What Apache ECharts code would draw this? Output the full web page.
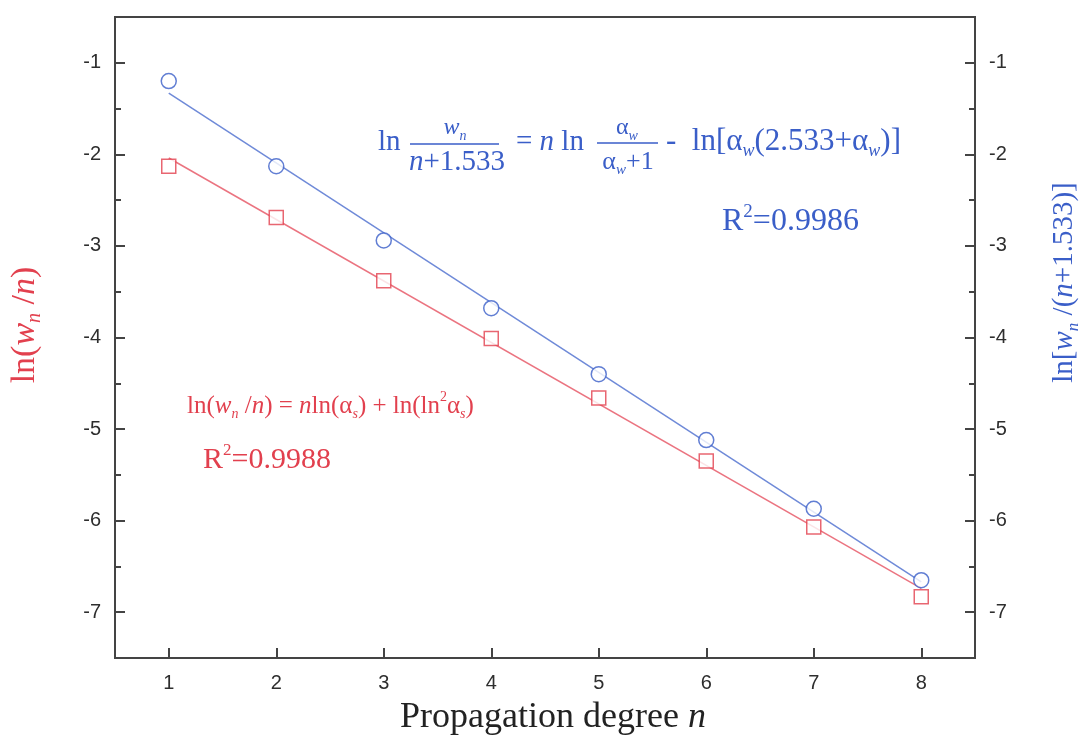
<!DOCTYPE html>
<html>
<head>
<meta charset="utf-8">
<script src="https://cdn.jsdelivr.net/npm/echarts@6/dist/echarts.min.js"></script>
<style>
html, body { margin: 0; padding: 0; background: #fff; }
#container { width: 1083px; height: 742px; }
</style>
</head>
<body>
<div id="container"></div>
<script>
// data
var degree = [1, 2, 3, 4, 5, 6, 7, 8];
var lnWnOverN = [-2.13, -2.69, -3.38, -4.01, -4.66, -5.35, -6.07, -6.83];
var lnWnOverN1533 = [-1.20, -2.13, -2.94, -3.68, -4.40, -5.12, -5.87, -6.65];
// fitted lines, read at n = 1 and n = 8
var fitDegree = [1, 8];
var fitRed = [-2.04, -6.74];
var fitBlue = [-1.33, -6.67];
// tick labels
var xTicks = [1, 2, 3, 4, 5, 6, 7, 8];
var yTicks = [-7, -6, -5, -4, -3, -2, -1];
var yMinorTicks = [-6.5, -5.5, -4.5, -3.5, -2.5, -1.5];

var red = '#e2404e';
var blue = '#3a5ec8';
var axisColor = '#444';
var serif = "'Liberation Serif', 'Times New Roman', serif";
var sans = "'Liberation Sans', Arial, sans-serif";

function pairs(xs, ys) {
	return xs.map(function (x, i) { return [x, ys[i]]; });
}

// rich styles for the formula texts (zrender names)
function richFor(size, color) {
	var sub = Math.round(size * 0.58);
	return {
		n: { fontSize: size, fontFamily: serif, fill: color, lineHeight: size + 6 },
		i: { fontSize: size, fontFamily: serif, fontStyle: 'italic', fill: color, lineHeight: size + 6 },
		s: { fontSize: sub, fontFamily: serif, fontStyle: 'italic', fill: color, lineHeight: sub, verticalAlign: 'bottom' },
		p: { fontSize: sub, fontFamily: serif, fill: color, lineHeight: sub, verticalAlign: 'top' }
	};
}
function txt(x, y, text, size, color, align) {
	return {
		type: 'text', x: x, y: y, z: 100,
		style: {
			text: text, fill: color, fontFamily: serif, fontSize: size,
			align: align || 'left', verticalAlign: 'middle', rich: richFor(size, color)
		}
	};
}
function bar(x1, x2, y, color) {
	return { type: 'line', z: 100, shape: { x1: x1, y1: y, x2: x2, y2: y }, style: { stroke: color, lineWidth: 1.5 } };
}

// rich styles for the axis names (echarts names)
function axisRich(size, color) {
	var sub = Math.round(size * 0.58);
	return {
		n: { fontSize: size, fontFamily: serif, color: color, lineHeight: size + 6 },
		i: { fontSize: size, fontFamily: serif, fontStyle: 'italic', color: color, lineHeight: size + 6 },
		s: { fontSize: sub, fontFamily: serif, fontStyle: 'italic', color: color, lineHeight: sub, verticalAlign: 'bottom' }
	};
}

function yAxisBase(pos, major) {
	return {
		type: 'value',
		position: pos,
		min: -7.5,
		max: -0.5,
		splitLine: { show: false },
		axisLine: { show: major, onZero: false, lineStyle: { color: axisColor, width: 2 } },
		axisTick: {
			show: true, inside: true, length: major ? 10 : 6,
			customValues: major ? yTicks : yMinorTicks,
			lineStyle: { color: axisColor, width: 2 }
		},
		axisLabel: {
			show: major, customValues: yTicks, margin: 14,
			fontFamily: sans, fontSize: 20, color: '#2e2e2e'
		}
	};
}

var dom = document.getElementById('container');
var myChart = echarts.init(dom);

var yLeft = yAxisBase('left', true);
yLeft.name = '{n|ln(}{i|w}{s|n}{n| /}{i|n}{n|)}';
yLeft.nameLocation = 'middle';
yLeft.nameRotate = 90;
yLeft.nameGap = 70;
yLeft.nameTextStyle = { padding: [0, 0, 0, 25], rich: axisRich(34, red) };

var yRight = yAxisBase('right', true);
yRight.name = '{n|ln[}{i|w}{s|n}{n| /(}{i|n}{n|+1.533)]}';
yRight.nameLocation = 'middle';
yRight.nameRotate = 90;
yRight.nameGap = 72;
yRight.nameTextStyle = { padding: [0, 0, 0, 110], rich: axisRich(29, blue) };

var option = {
	animation: false,
	backgroundColor: '#fff',
	grid: {
		left: 115, right: 108, top: 17, bottom: 84,
		outerBoundsMode: 'none',
		show: true, borderColor: axisColor, borderWidth: 2
	},
	xAxis: {
		type: 'value',
		min: 0.5,
		max: 8.5,
		splitLine: { show: false },
		axisLine: { onZero: false, lineStyle: { color: axisColor, width: 2 } },
		axisTick: { inside: true, length: 10, customValues: xTicks, lineStyle: { color: axisColor, width: 2 } },
		axisLabel: { customValues: xTicks, margin: 15, fontFamily: sans, fontSize: 20, color: '#2e2e2e' },
		name: 'Propagation degree {i|n}',
		nameLocation: 'middle',
		nameGap: 42,
		nameTextStyle: {
			fontFamily: serif, fontSize: 36, color: '#222', padding: [0, 0, 0, 16],
			rich: { i: { fontFamily: serif, fontSize: 36, fontStyle: 'italic', color: '#222' } }
		}
	},
	yAxis: [yLeft, yRight, yAxisBase('left', false), yAxisBase('right', false)],
	series: [
		{
			name: 'ln(wn/n) fit',
			type: 'line',
			yAxisIndex: 0,
			data: pairs(fitDegree, fitRed),
			showSymbol: false,
			lineStyle: { color: '#eb7480', width: 1.5 },
			z: 2
		},
		{
			name: 'ln[wn/(n+1.533)] fit',
			type: 'line',
			yAxisIndex: 1,
			data: pairs(fitDegree, fitBlue),
			showSymbol: false,
			lineStyle: { color: '#6f8ad8', width: 1.5 },
			z: 2
		},
		{
			name: 'ln(wn/n)',
			type: 'scatter',
			yAxisIndex: 0,
			data: pairs(degree, lnWnOverN),
			symbol: 'rect',
			symbolSize: 14,
			itemStyle: { color: '#fff', borderColor: red, borderWidth: 1.5 },
			z: 3
		},
		{
			name: 'ln[wn/(n+1.533)]',
			type: 'scatter',
			yAxisIndex: 1,
			data: pairs(degree, lnWnOverN1533),
			symbol: 'circle',
			symbolSize: 15,
			itemStyle: { color: '#fff', borderColor: blue, borderWidth: 1.5 },
			z: 3
		}
	],
	graphic: [
		// blue formula
		txt(378, 142, '{n|ln}', 29, blue),
		txt(455, 128, '{i|w}{s|n}', 24, blue, 'center'),
		bar(410, 499, 144, blue),
		txt(457, 162, '{i|n}{n|+1.533}', 29, blue, 'center'),
		txt(516, 142, '{n|= }{i|n}{n| ln}', 29, blue),
		txt(627, 128, '{n|α}{s|w}', 24, blue, 'center'),
		bar(597, 658, 143, blue),
		txt(628, 162, '{n|α}{s|w}{n|+1}', 26, blue, 'center'),
		txt(666, 142, '{n|-  ln[α}{s|w}{n|(2.533+α}{s|w}{n|)]}', 31, blue),
		txt(722, 222, '{n|R}{p|2}{n|=0.9986}', 32, blue),
		// red formula
		txt(187, 406, '{n|ln(}{i|w}{s|n}{n| /}{i|n}{n|) = }{i|n}{n|ln(α}{s|s}{n|) + ln(ln}{p|2}{n|α}{s|s}{n|)}', 25, red),
		txt(203, 460, '{n|R}{p|2}{n|=0.9988}', 30, red)
	]
};

myChart.setOption(option);
</script>
</body>
</html>
